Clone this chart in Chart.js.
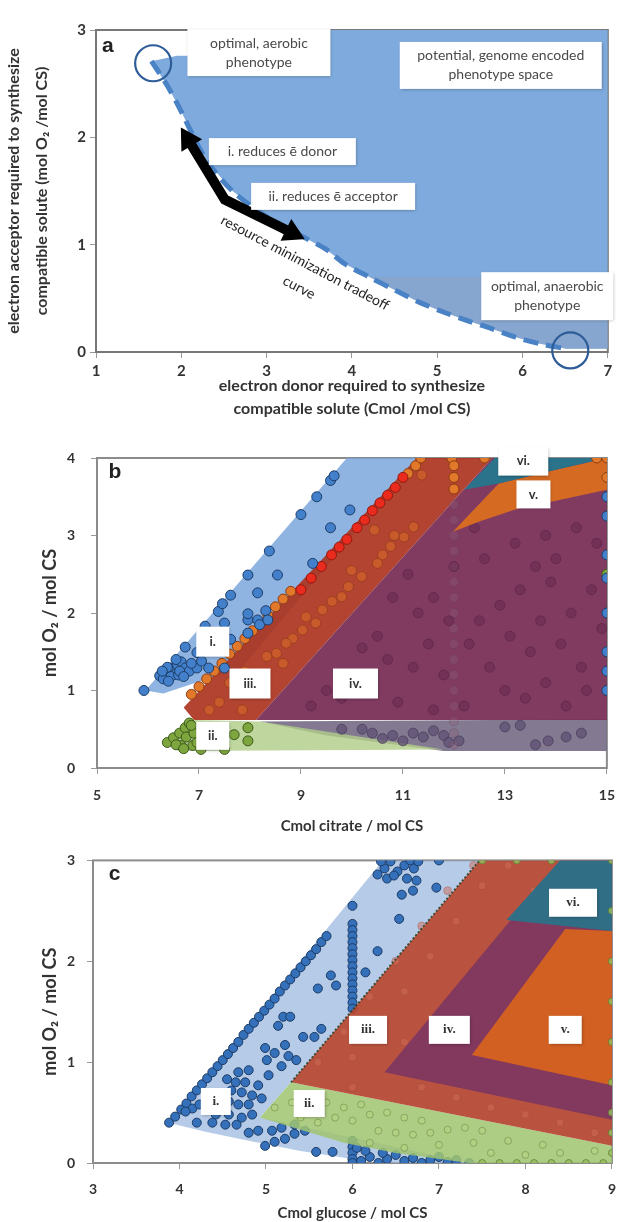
<!DOCTYPE html>
<html lang="en">
<head>
<meta charset="UTF-8" />
<title>Phenotype space of compatible solute synthesis</title>
<script src="https://cdn.jsdelivr.net/npm/chart.js"></script>
<style>
  body { margin: 0; background: #fff; }
  canvas { position: absolute; left: 0; }
  #chartA { top: 0; }
  #chartB { top: 420px; }
  #chartC { top: 840px; }
</style>
</head>
<body>
<canvas id="chartA" width="628" height="420"></canvas>
<canvas id="chartB" width="628" height="420"></canvas>
<canvas id="chartC" width="628" height="382"></canvas>
<script>
// ---- panel a: resource minimization curve ----
const aTicksX = [1, 2, 3, 4, 5, 6, 7];
const aTicksY = [0, 1, 2, 3];
const aCurveX = [1.65, 1.83, 2.0, 2.11, 2.3, 2.6, 3.0, 3.41, 3.69, 3.92, 4.2, 4.52, 4.8, 5.08, 5.36, 5.63, 5.91, 6.19, 6.51];
const aCurveY = [2.71, 2.49, 2.24, 2.06, 1.78, 1.50, 1.26, 1.08, 0.96, 0.82, 0.70, 0.57, 0.46, 0.37, 0.29, 0.22, 0.14, 0.08, 0.03];
const aSpaceX = [7, 7, 3.74, 3.74, 1.95];
const aSpaceY = [0.03, 3, 3, 2.76, 2.76];
const aShadeX = [7, 7];
const aShadeY = [0.03, 0.7];
const aArrowX = [2.08, 2.51, 3.3];
const aArrowY = [1.98, 1.42, 1.11];
const aCircleX = [1.67, 6.56];
const aCircleY = [2.69, 0.015];

// ---- panel b: citrate ----
const bTicksX = [5, 7, 9, 11, 13, 15];
const bTicksY = [0, 1, 2, 3, 4];
const bRegionI = [[5.95, 1.0], [9.9, 4.0], [11.27, 4.0], [7.85, 1.3], [6.3, 0.96]];
const bRegionII = [[6.4, 0.3], [6.85, 0.62], [8.2, 0.6], [11.8, 0.24], [6.6, 0.22]];
const bRegionGrey = [[8.2, 0.6], [15, 0.63], [15, 0.22], [11.8, 0.22], [9.5, 0.42]];
const bRegionIII = [[6.7, 0.78], [11.27, 4.0], [12.75, 4.0], [8.12, 0.62], [6.9, 0.62]];
const bRegionIV = [[8.12, 0.62], [12.75, 4.0], [15, 4.0], [15, 0.62]];
const bRegionV = [[11.98, 3.05], [12.88, 3.67], [14.0, 3.85], [15, 4.0], [15, 3.59], [14.0, 3.45], [13.26, 3.35], [12.5, 3.18]];
const bRegionVI = [[12.2, 3.59], [12.8, 4.0], [15, 4.0], [14.0, 3.85], [12.88, 3.67]];
const bBlue = [[5.92, 1.0], [6.23, 1.19], [6.35, 1.21], [6.42, 1.25], [6.5, 1.29], [6.58, 1.33], [6.65, 1.37], [6.54, 1.21],
  [6.73, 1.29], [6.81, 1.25], [6.96, 1.29], [6.73, 1.56], [6.96, 1.49], [7.19, 1.29], [7.12, 1.83], [7.38, 2.02],
  [7.46, 2.12], [7.62, 2.23], [7.5, 1.87], [7.62, 1.66], [7.5, 1.29], [7.96, 1.91], [7.96, 1.99], [7.96, 2.49],
  [7.96, 1.74], [8.15, 2.26], [8.15, 1.91], [8.19, 1.85], [8.31, 2.03], [8.35, 1.91], [8.38, 2.8], [8.54, 2.49],
  [9.0, 3.27], [9.23, 2.64], [9.31, 3.5], [9.58, 3.71], [9.65, 3.77], [9.58, 3.1], [9.96, 3.33],
  [6.3, 1.15], [6.45, 1.18], [6.6, 1.2], [6.38, 1.3], [6.62, 1.25], [6.7, 1.18], [6.55, 1.4], [6.85, 1.35],
  [6.4, 1.12], [6.28, 1.25], [7.05, 1.38], [7.3, 1.55],
  [15, 3.25], [15, 2.75], [15, 2.45], [15, 2.0], [15, 1.5], [15, 1.25], [15, 1.0], [15, 3.5]];
const bGreen = [[6.38, 0.33], [6.5, 0.39], [6.62, 0.45], [6.73, 0.52], [6.81, 0.58], [6.65, 0.29], [6.88, 0.29],
  [6.96, 0.33], [7.04, 0.24], [7.69, 0.43], [7.96, 0.52], [7.96, 0.35], [7.5, 0.24], [7.42, 0.37], [6.55, 0.3],
  [6.75, 0.4], [6.9, 0.45], [7.1, 0.5], [6.7, 0.25], [6.85, 0.55], [15, 2.5]];
const bRedEdge = [[9.0, 2.3], [9.2, 2.45], [9.4, 2.6], [9.6, 2.75], [9.75, 2.85], [9.9, 2.95], [10.1, 3.1], [10.25, 3.2],
  [10.4, 3.32], [10.55, 3.42], [10.7, 3.52], [10.85, 3.62], [11.0, 3.75]];
const bOrangeEdge = [[6.85, 0.95], [7.0, 1.05], [7.15, 1.15], [7.3, 1.25], [7.45, 1.35], [7.6, 1.47], [7.75, 1.57],
  [7.9, 1.67], [8.05, 1.77], [8.2, 1.87], [8.35, 1.97], [8.5, 2.08], [8.65, 2.18], [8.8, 2.28], [11.1, 3.8],
  [11.25, 3.9], [11.35, 4.0], [11.96, 4.0], [12.6, 4.0], [14.8, 4.0], [15, 4.0], [15, 3.75], [12, 3.6], [12, 3.75], [12, 3.9]];
const bOrangeInner = [[10.44, 3.07], [11.02, 2.98], [10.76, 2.86], [10.6, 2.75], [9.99, 2.55], [10.19, 2.47], [9.93, 2.34],
  [9.8, 2.21], [9.61, 2.15], [9.42, 2.04], [9.1, 1.95], [9.29, 1.87], [9.03, 1.78], [8.84, 1.67], [8.71, 1.61],
  [8.52, 1.48], [8.33, 1.44], [8.65, 1.35], [10.5, 2.64], [10.83, 3.0], [11.21, 3.11], [11.37, 3.78], [7.6, 1.1],
  [7.9, 1.25], [7.4, 0.85], [7.7, 0.95], [8.0, 1.05], [7.2, 0.75], [8.1, 1.2], [7.85, 0.75]];
const bPurple = [[9.2, 0.8], [9.5, 1.0], [9.8, 0.9], [10.1, 1.2], [10.4, 1.1], [10.7, 1.4], [10.9, 0.85], [11.2, 1.3],
  [11.5, 1.6], [11.8, 1.2], [11.3, 2.0], [11.6, 2.2], [11.9, 1.9], [12.3, 1.6], [12.5, 1.9], [12.7, 1.3], [12.9, 2.1],
  [13.1, 1.7], [13.3, 2.3], [13.5, 1.5], [13.7, 1.9], [13.9, 2.4], [14.1, 1.6], [14.3, 2.0], [14.5, 1.3], [14.7, 2.3],
  [14.9, 1.8], [13.0, 1.0], [13.4, 0.9], [13.8, 1.1], [14.2, 0.8], [14.6, 1.0], [12.2, 0.8], [11.6, 0.75], [10.5, 1.7],
  [10.2, 1.55], [12.0, 2.6], [12.6, 2.7], [13.2, 2.9], [13.8, 3.0], [14.4, 3.1], [11.1, 2.5], [10.8, 2.2], [12.4, 3.1],
  [14.0, 2.7], [14.8, 2.9], [13.6, 2.6]];
const bColumn = [[12, 0.3], [12, 0.45], [12, 0.6], [12, 0.8], [12, 1.0], [12, 1.2], [12, 1.4], [12, 1.6], [12, 1.8],
  [12, 2.0], [12, 2.2], [12, 2.4], [12, 2.6], [12, 2.8], [12, 3.0], [12, 3.2], [12, 3.4]];
const bGrey = [[10.4, 0.45], [10.6, 0.38], [10.8, 0.42], [11.0, 0.35], [11.2, 0.45], [11.4, 0.4], [11.6, 0.48],
  [11.8, 0.42], [11.9, 0.33], [10.2, 0.5], [9.8, 0.5], [13.3, 0.55], [13.6, 0.3], [13.85, 0.35], [14.2, 0.4],
  [14.5, 0.45], [13.0, 0.53], [12.1, 0.35]];

// ---- panel c: glucose ----
const cTicksX = [3, 4, 5, 6, 7, 8, 9];
const cTicksY = [0, 1, 2, 3];
const cRegionI = [[3.87, 0.4], [6.35, 3.0], [7.47, 3.0], [5.29, 0.8], [4.93, 0.45], [7.35, 0], [6.5, 0], [6.0, 0.04],
  [5.4, 0.12], [4.8, 0.22], [4.3, 0.31]];
const cRegionII = [[4.93, 0.45], [5.29, 0.8], [9, 0.17], [9, 0], [7.35, 0], [6.5, 0.1], [5.9, 0.2]];
const cRegionIII = [[5.29, 0.8], [7.47, 3.0], [9, 3.0], [9, 0.17]];
const cRegionIV = [[6.37, 0.9], [8.4, 3.0], [9, 3.0], [9, 0.43]];
const cRegionV = [[7.38, 1.07], [8.46, 2.32], [9, 2.3], [9, 0.77]];
const cRegionVI = [[7.78, 2.41], [8.4, 3.0], [9, 3.0], [9, 2.3]];
const cEdge = [[5.29, 0.8], [7.47, 3.0]];
const cBlue = [[3.88, 0.4], [3.95, 0.46], [4.02, 0.53], [4.08, 0.59], [4.14, 0.66], [4.2, 0.72], [4.26, 0.78],
  [4.32, 0.84], [4.38, 0.9], [4.44, 0.96], [4.5, 1.02], [4.56, 1.08], [4.62, 1.14], [4.68, 1.2], [4.74, 1.27],
  [4.8, 1.33], [4.86, 1.39], [4.92, 1.45], [4.98, 1.51], [5.04, 1.57], [5.1, 1.63], [5.16, 1.7], [5.22, 1.76],
  [5.28, 1.82], [5.34, 1.88], [5.4, 1.94], [5.46, 2.0], [5.52, 2.06], [5.58, 2.12], [5.64, 2.19], [5.7, 2.25],
  [6.29, 2.86], [6.37, 2.92], [6.44, 2.99], [6.52, 2.89], [6.6, 2.95], [6.67, 3.0], [6.71, 2.92], [6.76, 2.99],
  [6.4, 2.82], [6.48, 2.85], [6.63, 2.82], [6.33, 2.99], [6.74, 2.8], [7.0, 3.0], [6.97, 2.73],
  [6.54, 2.42], [6.57, 2.66], [6.7, 2.7], [6.29, 2.1], [6.15, 1.89], [5.6, 1.73], [5.81, 1.76], [5.75, 1.86],
  [5.2, 1.45], [5.28, 1.45], [5.14, 1.36], [5.43, 1.25], [5.56, 1.25], [5.64, 1.33], [4.99, 1.14], [5.1, 1.09],
  [5.22, 1.17], [5.26, 1.06], [5.01, 1.02], [5.35, 1.02], [5.18, 0.96], [4.8, 0.92], [4.68, 0.9], [4.55, 0.83],
  [4.65, 0.8], [4.76, 0.8], [4.91, 0.77], [5.03, 0.87], [4.6, 0.72], [4.72, 0.7], [4.84, 0.67], [4.95, 0.64],
  [4.57, 0.61], [4.68, 0.58], [4.8, 0.58], [4.15, 0.54], [4.23, 0.58], [4.07, 0.51], [4.42, 0.48], [4.57, 0.48],
  [4.72, 0.45], [4.84, 0.48], [4.2, 0.4], [4.38, 0.4], [4.53, 0.38], [4.66, 0.38], [4.8, 0.3], [4.91, 0.32],
  [4.99, 0.17], [5.1, 0.21], [5.22, 0.24], [5.33, 0.29], [5.45, 0.32], [5.58, 0.11], [5.77, 0.11], [5.07, 0.32],
  [5.18, 0.35], [5.33, 0.38],
  [6, 2.55], [6, 2.37], [6, 2.31], [6, 2.25], [6, 2.19], [6, 2.13], [6, 2.07], [6, 2.01], [6, 1.95], [6, 1.89],
  [6, 1.83], [6, 1.77], [6, 1.71], [6, 1.65], [6, 1.59], [6, 1.53], [6, 0.22], [6, 0.16], [6, 0.1], [6, 0.04], [6, 0.0],
  [6.1, 0.02], [6.2, 0.06], [6.3, 0.0], [6.4, 0.04], [6.5, 0.08], [6.6, 0.02], [6.7, 0.05], [6.8, 0.0], [6.9, 0.03],
  [7.0, 0.06], [7.1, 0.01], [7.2, 0.03], [7.35, 0.0], [6.15, 0.12], [6.35, 0.1], [6.05, 0.15]];
const cGreen = [[5.1, 0.55], [5.3, 0.6], [5.5, 0.65], [5.7, 0.6], [5.9, 0.55], [6.1, 0.58], [5.4, 0.45], [5.6, 0.4],
  [5.8, 0.45], [6.0, 0.42], [6.2, 0.48], [6.4, 0.5], [6.6, 0.45], [6.8, 0.42], [6.3, 0.32], [6.5, 0.3], [6.7, 0.28],
  [6.9, 0.3], [7.1, 0.33], [7.3, 0.35], [7.5, 0.32], [6.2, 0.2], [6.6, 0.15], [7.0, 0.18], [7.4, 0.2], [7.8, 0.22],
  [8.2, 0.18], [7.6, 0.1], [8.0, 0.08], [8.4, 0.1], [8.8, 0.12]];
const cGreenEdge = [[7.5, 0.0], [7.7, 0.0], [7.9, 0.0], [8.1, 0.0], [8.3, 0.0], [8.5, 0.0], [8.7, 0.0], [8.9, 0.0],
  [9, 0.1], [9, 0.3], [9, 0.5], [9, 0.8], [9, 1.2], [9, 1.6], [9, 2.0], [9, 2.5], [9, 3.0], [7.5, 3.0], [7.9, 3.0], [8.3, 3.0]];
const cRedDots = [[5.6, 1.0], [5.9, 1.3], [6.2, 1.65], [6.5, 2.0], [6.8, 2.35], [7.1, 2.7], [7.4, 2.95], [6.0, 1.05],
  [6.3, 1.35], [6.6, 1.7], [6.9, 2.05], [7.2, 2.4], [7.5, 2.75], [7.8, 2.95], [6.6, 1.2], [7.4, 1.9], [7.8, 2.3],
  [8.1, 2.7], [6.0, 0.75], [6.8, 0.75], [7.6, 0.55], [8.4, 0.4], [8.8, 0.3], [7.2, 0.65], [8.0, 0.48]];

const FONT = 'Lato, "Open Sans", sans-serif';
Chart.defaults.font.family = FONT;
Chart.defaults.color = '#333';

function xy(pairs) { return pairs.map(p => ({ x: p[0], y: p[1] })); }
function ring(pairs) { return xy(pairs.concat([pairs[0]])); }
function zip(xs, ys) { return xs.map((v, i) => [v, ys[i]]); }

function region(pairs, color) {
  return { data: ring(pairs), showLine: true, fill: 'shape', backgroundColor: color,
    borderColor: 'rgba(0,0,0,0)', borderWidth: 0, pointRadius: 0, tension: 0 };
}
function dots(pairs, fill, edge, r) {
  return { data: xy(pairs), showLine: false, pointRadius: r, pointBackgroundColor: fill,
    pointBorderColor: edge, pointBorderWidth: 1 };
}
// first in list = bottom layer
function stack(list) { return list.map((d, i) => Object.assign({ order: list.length - i }, d)); }

function axis(o) {
  return {
    type: 'linear', min: o.min, max: o.max,
    afterBuildTicks: s => { s.ticks = o.ticks.map(v => ({ value: v })); },
    afterFit: s => { if (s.isHorizontal()) s.height = o.size; else s.width = o.size; },
    grid: { drawOnChartArea: false, drawTicks: true, tickLength: 6, color: '#999' },
    border: { display: false },
    ticks: { font: { size: o.tickSize, weight: 'bold' }, color: '#333', padding: o.tickPad },
    title: { display: true, text: o.title, font: o.titleFont, color: '#333', padding: o.titlePad }
  };
}

const framePlugin = {
  id: 'frame',
  beforeDatasetsDraw(chart, args, opts) {
    const { ctx, chartArea: a } = chart;
    ctx.save();
    ctx.strokeStyle = opts.color;
    ctx.lineWidth = opts.width;
    ctx.strokeRect(a.left, a.top, a.right - a.left, a.bottom - a.top);
    ctx.restore();
  }
};
function notes(fn) { return { id: 'notes', afterDatasetsDraw: chart => fn(chart) }; }

function box(chart, n, font, color, lh) {
  const { ctx, scales: { x, y } } = chart;
  const px = x.getPixelForValue(n.x), py = y.getPixelForValue(n.y);
  ctx.save();
  ctx.shadowColor = 'rgba(0,0,0,0.28)';
  ctx.shadowBlur = 3;
  ctx.shadowOffsetX = 1;
  ctx.shadowOffsetY = 1;
  ctx.fillStyle = '#fff';
  ctx.fillRect(px - n.w / 2, py - n.h / 2, n.w, n.h);
  ctx.restore();
  ctx.save();
  ctx.font = font;
  ctx.fillStyle = color;
  ctx.textAlign = 'center';
  ctx.textBaseline = 'middle';
  n.lines.forEach((t, i) => ctx.fillText(t, px, py + (i - (n.lines.length - 1) / 2) * lh));
  ctx.restore();
}
function label(chart, t, vx, vy, font, angle) {
  const { ctx, scales: { x, y } } = chart;
  ctx.save();
  ctx.translate(x.getPixelForValue(vx), y.getPixelForValue(vy));
  ctx.rotate((angle || 0) * Math.PI / 180);
  ctx.font = font;
  ctx.fillStyle = '#222';
  ctx.textAlign = 'center';
  ctx.textBaseline = 'middle';
  ctx.fillText(t, 0, 0);
  ctx.restore();
}

const baseOpts = {
  responsive: false, animation: false, events: []
};

// arrowhead rotation taken from the neighbouring point, in pixels
function headTurn(ctx) {
  const d = ctx.dataset.data, i = ctx.dataIndex;
  if (i !== 0 && i !== d.length - 1) return 0;
  const j = i === 0 ? 1 : d.length - 2;
  const { x, y } = ctx.chart.scales;
  const dx = x.getPixelForValue(d[i].x) - x.getPixelForValue(d[j].x);
  const up = y.getPixelForValue(d[j].y) - y.getPixelForValue(d[i].y);
  return Math.atan2(dx, up) * 180 / Math.PI;
}

// ---------- chart a ----------
const aCurve = zip(aCurveX, aCurveY);
const aSpace = aCurve.concat(zip(aSpaceX, aSpaceY));
const aShade = aCurve.filter(p => p[0] >= 4.2).concat(zip(aShadeX, aShadeY));
const aNotes = [
  { x: 2.91, y: 2.79, w: 143, h: 47, lines: ['optimal, aerobic', 'phenotype'] },
  { x: 5.745, y: 2.67, w: 202, h: 47, lines: ['potential, genome encoded', 'phenotype space'] },
  { x: 3.185, y: 1.867, w: 147, h: 27, lines: ['i. reduces ē donor'] },
  { x: 3.78, y: 1.45, w: 164, h: 27, lines: ['ii. reduces ē acceptor'] },
  { x: 6.29, y: 0.52, w: 132, h: 48, lines: ['optimal, anaerobic', 'phenotype'] }
];

new Chart(document.getElementById('chartA'), {
  type: 'scatter',
  data: {
    datasets: stack([
      region(aSpace, '#7eaadd'),
      region(aShade, 'rgba(150,160,180,0.35)'),
      { data: xy(aCurve), showLine: true, borderColor: '#4a82c6', borderWidth: 5, borderDash: [15, 8],
        borderCapStyle: 'butt', pointRadius: 0, tension: 0.3 },
      { data: xy(zip(aArrowX, aArrowY)), showLine: true, borderColor: '#000', borderWidth: 10,
        borderJoinStyle: 'miter', pointStyle: 'triangle', pointRadius: [12, 0, 12],
        pointRotation: headTurn, pointBackgroundColor: '#000', pointBorderColor: '#000', pointBorderWidth: 2 },
      { data: xy(zip(aCircleX, aCircleY)), showLine: false, pointRadius: 18, clip: false,
        pointBackgroundColor: 'rgba(0,0,0,0)', pointBorderColor: '#2d5c98', pointBorderWidth: 2.2 }
    ])
  },
  options: Object.assign({}, baseOpts, {
    layout: { padding: { top: 30, right: 13, left: 0, bottom: 0 } },
    plugins: { legend: { display: false }, tooltip: { enabled: false }, frame: { color: '#777', width: 2 } },
    scales: {
      x: axis({ min: 1, max: 7, ticks: aTicksX, size: 68, tickSize: 15, tickPad: 4,
        title: ['electron donor required to synthesize', 'compatible solute (Cmol /mol CS)'],
        titleFont: { size: 16, weight: 'bold', lineHeight: '23px' }, titlePad: { top: 0, bottom: 0 } }),
      y: axis({ min: 0, max: 3, ticks: aTicksY, size: 96, tickSize: 15, tickPad: 4,
        title: ['electron acceptor required to synthesize', 'compatible solute (mol O₂ /mol CS)'],
        titleFont: { size: 16, weight: 'bold', lineHeight: '28px' }, titlePad: { top: 0, bottom: 0 } })
    }
  }),
  plugins: [framePlugin, notes(chart => {
    aNotes.forEach(n => box(chart, n, '14px ' + FONT, '#4a4a4a', 19));
    label(chart, 'resource minimization tradeoff', 3.45, 0.83, '14px ' + FONT, 27.8);
    label(chart, 'curve', 3.38, 0.6, '14px ' + FONT, 27.8);
    label(chart, 'a', 1.14, 2.85, 'bold 21px "Liberation Sans", Arial, sans-serif', 0);
  })]
});

// ---------- chart b ----------
const bLabels = [
  { x: 7.27, y: 1.63, w: 33, h: 30, lines: ['i.'] },
  { x: 8.0, y: 1.09, w: 41, h: 30, lines: ['iii.'] },
  { x: 10.07, y: 1.09, w: 45, h: 30, lines: ['iv.'] },
  { x: 7.27, y: 0.415, w: 33, h: 28, lines: ['ii.'] },
  { x: 13.36, y: 3.96, w: 50, h: 29, lines: ['vi.'] },
  { x: 13.56, y: 3.53, w: 34, h: 28, lines: ['v.'] }
];

new Chart(document.getElementById('chartB'), {
  type: 'scatter',
  data: {
    datasets: stack([
      region(bRegionI, 'rgba(118,164,218,0.82)'),
      region(bRegionGrey, 'rgba(118,108,134,0.9)'),
      region(bRegionII, 'rgba(178,205,138,0.82)'),
      dots(bGrey, 'rgba(95,80,115,0.75)', 'rgba(60,50,80,0.6)', 5),
      region(bRegionIII, 'rgba(172,52,32,0.92)'),
      region(bRegionIV, 'rgba(118,42,84,0.92)'),
      dots(bColumn, 'rgba(140,95,120,0.35)', 'rgba(90,60,80,0.25)', 4.5),
      dots(bPurple, 'rgba(100,38,78,0.45)', 'rgba(70,25,55,0.4)', 5),
      region(bRegionV, 'rgba(218,110,32,0.95)'),
      region(bRegionVI, 'rgba(38,118,140,0.95)'),
      dots(bOrangeInner, 'rgba(215,105,40,0.6)', 'rgba(130,50,20,0.5)', 5),
      dots(bOrangeEdge, '#e2782a', '#8a3c14', 5),
      dots(bRedEdge, '#ea2a1c', '#8f1a10', 5),
      dots(bGreen, '#7ea63e', '#3c5a1c', 5),
      dots(bBlue, '#4280cc', '#1e3d66', 5)
    ])
  },
  options: Object.assign({}, baseOpts, {
    layout: { padding: { top: 38, right: 11, left: 0, bottom: 0 } },
    plugins: { legend: { display: false }, tooltip: { enabled: false }, frame: { color: '#8c8c8c', width: 2 } },
    scales: {
      x: axis({ min: 5, max: 15, ticks: bTicksX, size: 72, tickSize: 14, tickPad: 13,
        title: 'Cmol citrate / mol CS', titleFont: { size: 15, weight: 'bold', lineHeight: '18px' },
        titlePad: { top: 0, bottom: 5 } }),
      y: axis({ min: 0, max: 4, ticks: bTicksY, size: 97, tickSize: 14, tickPad: 16,
        title: 'mol O₂ / mol CS', titleFont: { size: 18, weight: 'bold', lineHeight: '22px' },
        titlePad: { top: 39, bottom: 0 } })
    }
  }),
  plugins: [framePlugin, notes(chart => {
    bLabels.forEach(n => box(chart, n, 'bold 13px ' + FONT, '#333', 16));
    label(chart, 'b', 5.35, 3.82, 'bold 21px "Liberation Sans", Arial, sans-serif', 0);
  })]
});

// ---------- chart c ----------
const cLabels = [
  { x: 4.42, y: 0.61, w: 30, h: 27, lines: ['i.'] },
  { x: 5.5, y: 0.59, w: 31, h: 27, lines: ['ii.'] },
  { x: 6.18, y: 1.32, w: 38, h: 28, lines: ['iii.'] },
  { x: 7.12, y: 1.32, w: 41, h: 28, lines: ['iv.'] },
  { x: 8.46, y: 1.32, w: 33, h: 28, lines: ['v.'] },
  { x: 8.55, y: 2.58, w: 48, h: 28, lines: ['vi.'] }
];

new Chart(document.getElementById('chartC'), {
  type: 'scatter',
  data: {
    datasets: stack([
      region(cRegionI, 'rgba(158,186,224,0.75)'),
      dots(cBlue, '#3571ba', '#1b3a63', 4.5),
      region(cRegionII, 'rgba(160,196,112,0.86)'),
      dots(cGreen, 'rgba(180,210,130,0.75)', 'rgba(110,140,70,0.6)', 3.5),
      region(cRegionIII, 'rgba(180,70,48,0.93)'),
      dots(cRedDots, 'rgba(205,108,88,0.5)', 'rgba(150,60,45,0.3)', 4),
      { data: xy(cEdge), showLine: true, borderColor: 'rgba(35,65,40,0.85)', borderWidth: 2,
        borderDash: [2, 2], pointRadius: 0 },
      region(cRegionIV, 'rgba(128,55,96,0.95)'),
      region(cRegionV, 'rgba(212,98,32,0.96)'),
      region(cRegionVI, 'rgba(45,112,136,0.96)'),
      dots(cGreenEdge, 'rgba(150,190,90,0.85)', 'rgba(90,120,50,0.7)', 3.5)
    ])
  },
  options: Object.assign({}, baseOpts, {
    layout: { padding: { top: 12, right: 11, left: 0, bottom: 0 } },
    plugins: { legend: { display: false }, tooltip: { enabled: false }, frame: { color: '#8c8c8c', width: 2 } },
    scales: {
      x: axis({ min: 3, max: 9, ticks: cTicksX, size: 59, tickSize: 14, tickPad: 12,
        title: 'Cmol glucose / mol CS', titleFont: { size: 15, weight: 'bold', lineHeight: '18px' },
        titlePad: { top: 0, bottom: 0 } }),
      y: axis({ min: 0, max: 3, ticks: cTicksY, size: 93, tickSize: 14, tickPad: 12,
        title: 'mol O₂ / mol CS', titleFont: { size: 18, weight: 'bold', lineHeight: '22px' },
        titlePad: { top: 39, bottom: 0 } })
    }
  }),
  plugins: [framePlugin, notes(chart => {
    cLabels.forEach(n => box(chart, n, 'bold 13px "Liberation Serif", serif', '#333', 16));
    label(chart, 'c', 3.25, 2.86, 'bold 21px "Liberation Sans", Arial, sans-serif', 0);
  })]
});
</script>
</body>
</html>
